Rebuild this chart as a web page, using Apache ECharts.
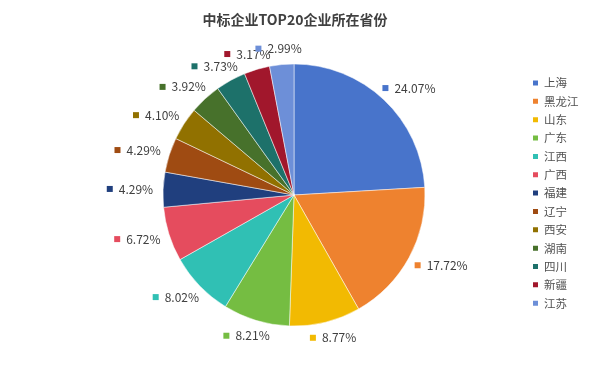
<!DOCTYPE html>
<html>
<head>
<meta charset="utf-8">
<script src="https://cdn.jsdelivr.net/npm/echarts@6/dist/echarts.min.js"></script>
<style>
html,body{margin:0;padding:0;background:#fff;}
#c{width:590px;height:367px;}
</style>
</head>
<body>
<div id="c"></div>
<script>
var titleText = '中标企业TOP20企业所在省份';
var categories = ['上海','黑龙江','山东','广东','江西','广西','福建','辽宁','西安','湖南','四川','新疆','江苏'];
var values = [24.07,17.72,8.77,8.21,8.02,6.72,4.29,4.29,4.10,3.92,3.73,3.17,2.99];
var colors = ['#4874CB','#EE822F','#F2BA02','#75BD42','#30C0B4','#E54C5E','#203F7E','#9F4B12','#917100','#47712B','#1D716A','#A1172C','#6D8FD8'];

var PIE_CENTER = [294,195];
var PIE_R = 131;
var LABEL_GAP = 10;

var rich = {};
colors.forEach(function(c,i){
  rich['m'+i] = {width:6,height:6,backgroundColor:c};
});
rich.v = {fontSize:12,color:'#404040',fontFamily:'"Noto Sans CJK SC","Noto Sans",sans-serif',padding:[0,0,0,6]};

var data = categories.map(function(n,i){return {name:n,value:values[i],itemStyle:{color:colors[i]}};});

var total = values.reduce(function(a,b){return a+b;},0);
function midDir(idx){
  var before = 0;
  for (var i=0;i<idx;i++) before += values[i];
  var a = (before + values[idx]/2)/total*Math.PI*2;
  return [Math.sin(a), -Math.cos(a)];
}

var chart = echarts.init(document.getElementById('c'));
chart.setOption({
  animation:false,
  backgroundColor:'#fff',
  title:{
    text:titleText,left:'center',top:8,
    textStyle:{fontSize:14,fontWeight:'bold',color:'#404040',fontFamily:'"Noto Sans CJK SC",sans-serif'}
  },
  legend:{
    orient:'vertical',left:526,top:72,
    itemWidth:7,itemHeight:7,itemGap:6.35,icon:'rect',
    data:categories,
    textStyle:{fontSize:11.5,color:'#505050',lineHeight:12,fontFamily:'"Noto Sans CJK SC",sans-serif'}
  },
  series:[{
    type:'pie',
    center:PIE_CENTER,
    radius:PIE_R,
    startAngle:90,
    clockwise:true,
    avoidLabelOverlap:false,
    data:data,
    itemStyle:{borderColor:'#fff',borderWidth:0.5},
    label:{
      show:true,position:'outside',
      formatter:function(p){return '{m'+p.dataIndex+'|}{v|'+p.value.toFixed(2)+'%}';},
      rich:rich
    },
    labelLine:{show:true,length:LABEL_GAP,length2:0,lineStyle:{opacity:0,width:0}},
    labelLayout:function(p){
      var d = midDir(p.dataIndex);
      var R = PIE_R + LABEL_GAP;
      var px = PIE_CENTER[0] + d[0]*R;
      var py = PIE_CENTER[1] + d[1]*R;
      var w = p.labelRect.width, h = p.labelRect.height;
      return {
        x: px + d[0]*w/2,
        y: py + d[1]*h/2,
        align:'center',
        verticalAlign:'middle'
      };
    },
    emphasis:{disabled:true}
  }]
});
</script>
</body>
</html>
